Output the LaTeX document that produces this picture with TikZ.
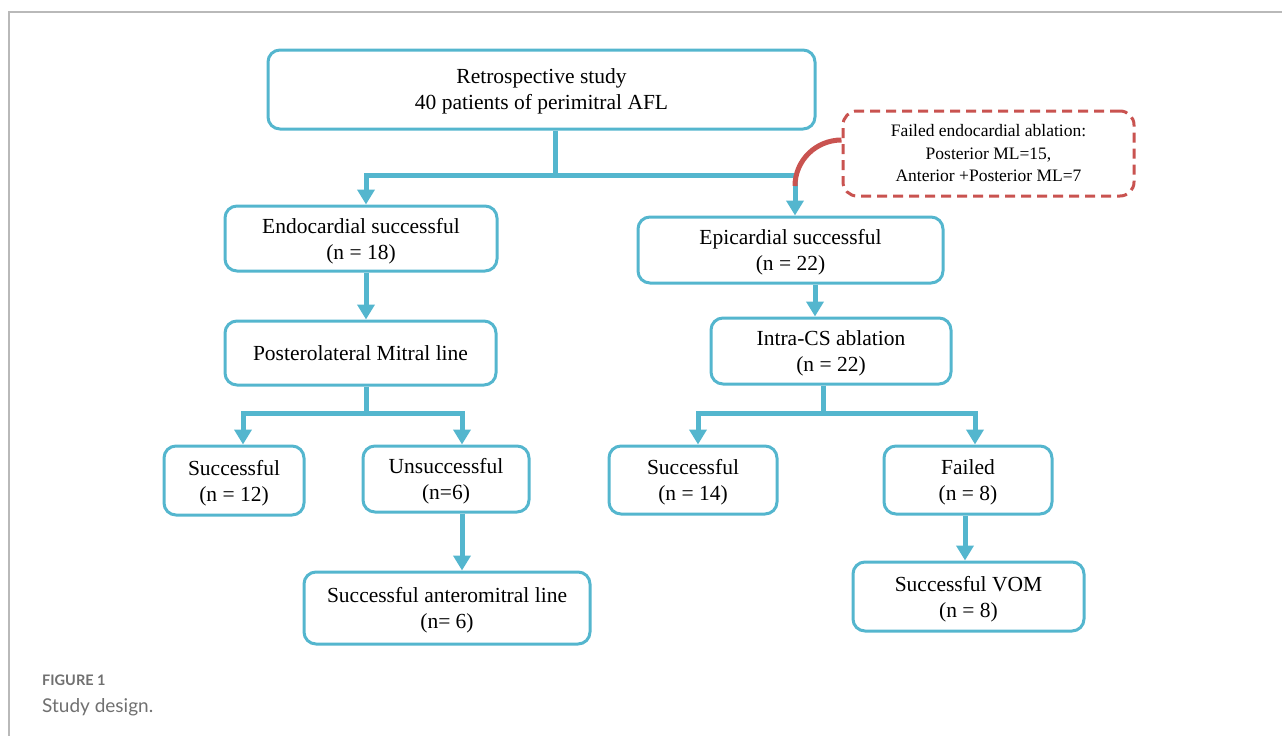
\documentclass[tikz,border=0pt]{standalone}
\usepackage{fontspec}
\setmainfont{Liberation Serif}
\newfontfamily\capfont{Lato}
\usetikzlibrary{arrows.meta}
\definecolor{flowblue}{RGB}{84,182,206}
\definecolor{flowred}{RGB}{201,83,80}
\definecolor{capgray}{RGB}{112,112,112}
\definecolor{framegray}{RGB}{185,185,185}

\begin{document}
\begin{tikzpicture}[x=1pt, y=-1pt,
    box/.style={draw=flowblue, line width=3pt, rounded corners=12pt, align=center,
        inner sep=0pt, text depth=-3pt, font=\fontsize{21.5}{26}\selectfont},
    link/.style={flowblue, line width=5pt},
    arr/.style={link, -{Triangle[width=17pt, length=15pt]}}]
    \useasboundingbox (0,0) rectangle (1282,736);
    \draw[framegray, line width=1.2pt] (9,736) -- (9,12) -- (1282,12);

    % boxes
    \node (top) at (541.5,89.5)[box, minimum width=547pt, minimum height=79pt] {Retrospective study\\40 patients of perimitral AFL};
    \node (fail) at (988.5,153.5)[draw=flowred, line width=3pt, dash pattern=on 10pt off 6pt, rounded corners=14pt,
        minimum width=291pt, minimum height=85pt, align=center, font=\fontsize{17.5}{22.5}\selectfont] {Failed endocardial ablation:\\Posterior ML=15,\\Anterior +Posterior ML=7};
    \node (endo) at (361,238.5)[box, minimum width=272pt, minimum height=65pt] {Endocardial successful\\(n = 18)};
    \node (epi) at (790.5,250)[box, minimum width=305pt, minimum height=66pt] {Epicardial successful\\(n = 22)};
    \node (post) at (360.5,353)[box, minimum width=271pt, minimum height=64pt] {Posterolateral Mitral line};
    \node (intra) at (831,351)[box, minimum width=240pt, minimum height=66pt] {Intra-CS ablation\\(n = 22)};
    \node (succ12) at (234,480.5)[box, minimum width=140pt, minimum height=69pt] {Successful\\(n = 12)};
    \node (unsucc) at (446,479)[box, minimum width=166pt, minimum height=66pt] {Unsuccessful\\(n=6)};
    \node (succ14) at (693,480)[box, minimum width=168pt, minimum height=68pt] {Successful\\(n = 14)};
    \node (failed) at (968,480)[box, minimum width=168pt, minimum height=68pt] {Failed\\(n = 8)};
    \node (antero) at (447,608)[box, minimum width=286pt, minimum height=72pt] {Successful anteromitral line\\(n= 6)};
    \node (vom) at (968.5,596.5)[box, minimum width=231pt, minimum height=69pt] {Successful VOM\\(n = 8)};

    % forks
    \coordinate (fork1) at (555,175);
    \coordinate (col1) at (366,175);
    \coordinate (col2) at (795,175);
    \coordinate (fork2) at (366,413);
    \coordinate (col3) at (243,413);
    \coordinate (col4) at (462,413);
    \coordinate (fork3) at (823,413);
    \coordinate (col5) at (698,413);
    \coordinate (col6) at (975,413);

    \draw[link] (top.south -| fork1) -- (fork1);
    \draw[link] (post.south -| fork2) -- (fork2);
    \draw[link] (intra.south -| fork3) -- (fork3);
    \foreach \f/\c/\b in {fork1/col1/endo, fork1/col2/epi, fork2/col3/succ12, fork2/col4/unsucc, fork3/col5/succ14, fork3/col6/failed} {
        \draw[arr] (\f) -- (\c) -- (\c |- \b.north);
    }

    \draw[arr] (endo.south -| col1) -- (post.north -| col1);
    \draw[arr] (epi.south -| 815,0) -- (intra.north -| 815,0);
    \draw[arr] (unsucc.south -| col4) -- (antero.north -| col4);
    \draw[arr] (failed.south -| 965,0) -- (vom.north -| 965,0);

    % red note
    \coordinate (redend) at (795,186);
    \draw[flowred, line width=5pt] (fail.west |- 0,140) to[out=180, in=90] (redend);

    % caption
    \node (figlabel) at (42,680)[anchor=west, inner sep=0pt, text=capgray, font=\capfont\bfseries\fontsize{14.5}{16}\selectfont] {FIGURE 1};
    \node (figtitle) at (42,707)[anchor=west, inner sep=0pt, text=capgray, font=\capfont\fontsize{19}{20}\selectfont] {Study design.};
\end{tikzpicture}
\end{document}
